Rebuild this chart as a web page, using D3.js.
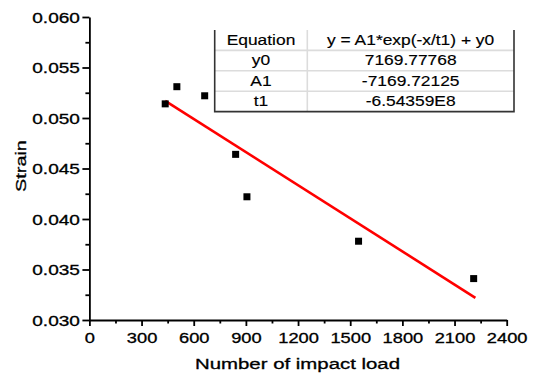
<!DOCTYPE html>
<html>
<head>
<meta charset="utf-8">
<script src="https://cdn.jsdelivr.net/npm/d3@7"></script>
<style>
  body { margin: 0; background: #fff; }
  text { font-family: "Liberation Sans", Arial, sans-serif; fill: #000; stroke: #000; stroke-width: 0.3px; }
</style>
</head>
<body>
<div id="chart"></div>
<script>
// values
const xTicks = [0, 300, 600, 900, 1200, 1500, 1800, 2100, 2400];
const xMinor = [150, 450, 750, 1050, 1350, 1650, 1950, 2250];
const yTicks = [0.030, 0.035, 0.040, 0.045, 0.050, 0.055, 0.060];
const yMinor = [0.0325, 0.0375, 0.0425, 0.0475, 0.0525, 0.0575];

const loads = [436, 503, 663, 841, 906, 1548, 2210];
const strain = [0.0514, 0.0531, 0.0522, 0.0464, 0.0422, 0.0378, 0.0341];

// fitted line end points
const fitX = [436, 2220];
const fitY = [0.0517, 0.0322];

const tableRows = [
  ['Equation', 'y = A1*exp(-x/t1) + y0'],
  ['y0', '7169.77768'],
  ['A1', '-7169.72125'],
  ['t1', '-6.54359E8']
];

const width = 536;
const height = 376;

const svg = d3.select('#chart').append('svg')
  .attr('width', width)
  .attr('height', height);

const x = d3.scaleLinear().domain([0, 2400]).range([89.4, 506.7]);
const y = d3.scaleLinear().domain([0.030, 0.060]).range([320, 17]);

// text in the picture is wider than the font, stretch it sideways
const stretch = function(sel, dx, s) {
  sel.attr('x', 0).attr('transform', `translate(${dx},0) scale(${s},1)`);
};

// x axis
const xAxis = svg.append('g')
  .attr('transform', `translate(0,${y(0.030)})`)
  .call(d3.axisBottom(x).tickValues(xTicks).tickSize(6).tickSizeOuter(0)
    .tickFormat(d3.format('d')));
xAxis.selectAll('text')
  .attr('y', 0).attr('dy', 23)
  .style('font-size', '15px')
  .call(stretch, 0, 1.22);

svg.append('g')
  .attr('transform', `translate(0,${y(0.030)})`)
  .call(d3.axisBottom(x).tickValues(xMinor).tickSize(3.5).tickFormat(''))
  .select('.domain').remove();

// y axis
const yAxis = svg.append('g')
  .attr('transform', `translate(${x(0)},0)`)
  .call(d3.axisLeft(y).tickValues(yTicks).tickSize(7).tickSizeOuter(0)
    .tickFormat(d3.format('.3f')));
yAxis.selectAll('text')
  .attr('dy', '0.36em')
  .style('font-size', '15px')
  .call(stretch, -9.5, 1.27);

svg.append('g')
  .attr('transform', `translate(${x(0)},0)`)
  .call(d3.axisLeft(y).tickValues(yMinor).tickSize(4).tickFormat(''))
  .select('.domain').remove();

svg.selectAll('.domain, .tick line')
  .attr('stroke', '#000')
  .attr('stroke-width', 1.8);

// axis titles
svg.append('text')
  .attr('transform', `translate(297.5,369) scale(1.36,1)`)
  .attr('text-anchor', 'middle')
  .style('font-size', '15px')
  .text('Number of impact load');

svg.append('text')
  .attr('transform', `translate(25.5,166) rotate(-90) scale(1.28,1)`)
  .attr('text-anchor', 'middle')
  .style('font-size', '15.5px')
  .text('Strain');

// fit line
svg.append('line')
  .attr('x1', x(fitX[0])).attr('y1', y(fitY[0]))
  .attr('x2', x(fitX[1])).attr('y2', y(fitY[1]))
  .attr('stroke', '#ff0000')
  .attr('stroke-width', 2.6);

// points
const sq = 7;
svg.append('g')
  .selectAll('rect')
  .data(loads)
  .enter().append('rect')
    .attr('x', (d) => x(d) - sq / 2)
    .attr('y', (d, i) => y(strain[i]) - sq / 2)
    .attr('width', sq)
    .attr('height', sq)
    .attr('fill', '#000');

// parameter table
const tLeft = 214.7, tMid = 307.3, tRight = 514, tTop = 30, rowH = 20.4;
const table = svg.append('g').attr('class', 'table');
const tBottom = tTop + rowH * tableRows.length;

table.append('rect')
  .attr('x', tLeft).attr('y', tTop)
  .attr('width', tRight - tLeft).attr('height', tBottom - tTop)
  .attr('fill', '#fff');

// row separators
for (let i = 1; i < tableRows.length; i++) {
  table.append('line')
    .attr('x1', tLeft).attr('x2', tRight)
    .attr('y1', tTop + rowH * i).attr('y2', tTop + rowH * i)
    .attr('stroke', '#dcdcdc').attr('stroke-width', 1.6);
}
table.append('line')
  .attr('x1', tMid).attr('x2', tMid)
  .attr('y1', tTop).attr('y2', tBottom)
  .attr('stroke', '#dcdcdc').attr('stroke-width', 1.6);

// frame: dark left / bottom / right
table.append('path')
  .attr('d', `M${tLeft},${tTop}V${tBottom}H${tRight}V${tTop}`)
  .attr('fill', 'none')
  .attr('stroke', '#333')
  .attr('stroke-width', 1.6);

tableRows.forEach((row, i) => {
  const base = tTop + rowH * i + 14.8;
  [[row[0], (tLeft + tMid) / 2], [row[1], (tMid + tRight) / 2]].forEach(([t, cx]) => {
    table.append('text')
      .attr('transform', `translate(${cx},${base}) scale(1.2,1)`)
      .attr('text-anchor', 'middle')
      .style('font-size', '14.5px')
      .style('stroke-width', '0.15px')
      .text(t);
  });
});
</script>
</body>
</html>
